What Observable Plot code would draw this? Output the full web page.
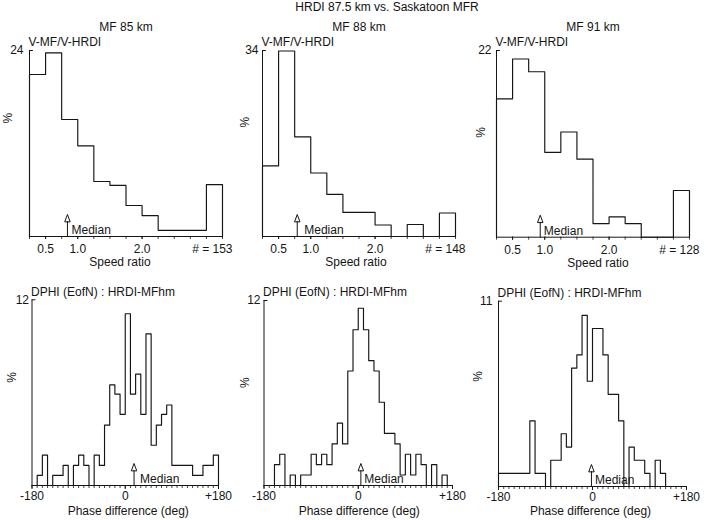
<!DOCTYPE html>
<html>
<head>
<meta charset="utf-8">
<script src="https://cdn.jsdelivr.net/npm/d3@7"></script>
<script src="https://cdn.jsdelivr.net/npm/@observablehq/plot@0.6"></script>
<style>
  body { margin: 0; background: #fff; }
  #chart { position: relative; width: 714px; height: 520px; background: #fff; overflow: hidden;
           font-family: "Liberation Sans", Arial, Helvetica, sans-serif; color: #111; }
  #title { position: absolute; left: 237px; width: 300px; top: 0.5px; text-align: center;
           font-size: 12px; line-height: 12px; white-space: nowrap; }
  .panel { position: absolute; }
</style>
</head>
<body>
<div id="chart"><div id="title"></div></div>
<script>
// ---------------- data ----------------
const overallTitle = "HRDI 87.5 km vs. Saskatoon MFR";
const speedPanelTitles = ["MF 85 km", "MF 88 km", "MF 91 km"];
const speedYTitle = "V-MF/V-HRDI";
const phaseYTitle = "DPHI (EofN) : HRDI-MFhm";
const speedXTitle = "Speed ratio";
const phaseXTitle = "Phase difference (deg)";
const yUnit = "%";
const medianLabel = "Median";

// speed-ratio histograms: bins of 0.25 starting at 0.25 (last bin = 3.0 and above)
const speedBinStart = 0.25;
const speedBinWidth = 0.25;
const speed85 = [20.9, 23.7, 15.1, 11.7, 7.1, 6.6, 4.0, 2.7, 0.8, 0.8, 0.8, 6.7];
const speed88 = [12.9, 33.9, 18.2, 11.6, 7.7, 4.4, 4.4, 2.1, 0, 2.2, 0, 4.3];
const speed91 = [16.3, 21.0, 19.5, 10.0, 12.4, 9.2, 1.6, 2.4, 1.6, 0, 0, 5.5];
const speedYMax = [24, 34, 22];
const speedMedians = [0.84, 0.79, 0.93];
const speedCounts = ["# = 153", "# = 148", "# = 128"];
const speedTickValues = [0.5, 1.0, 2.0];
const speedTickLabels = ["0.5", "1.0", "2.0"];

// phase-difference histograms: 10-degree bins from -180 to +180
const phaseBinStart = -180;
const phaseBinWidth = 10;
const phase85 = [0, 0.65, 1.96, 0, 0.65, 0.65, 1.3, 0, 1.3, 1.96, 1.3, 0, 1.96, 1.3, 3.9, 6.5, 5.9, 4.6,
                 11.1, 5.9, 7.2, 4.6, 9.8, 2.6, 3.9, 4.6, 5.2, 1.3, 1.3, 1.3, 1.3, 0.65, 0.65, 1.3, 1.3, 1.96];
const phase88 = [0, 0, 1.35, 2.03, 0, 0.68, 0, 0.68, 0.68, 2.03, 1.35, 2.03, 1.35, 2.7, 4.05, 2.7, 7.43, 10.1,
                 11.5, 10.1, 8.1, 7.43, 5.4, 3.38, 3.38, 2.7, 0.68, 2.03, 0.68, 2.03, 1.35, 0, 1.35, 0, 0.68, 0];
const phase91 = [0.78, 0.78, 0.78, 0.78, 0.78, 0.78, 3.9, 0.78, 0.78, 0, 1.56, 1.56, 3.13, 2.34, 7.03, 7.81, 10.16, 6.25,
                 9.38, 9.38, 7.81, 5.47, 5.47, 3.9, 0, 2.34, 1.56, 1.56, 0.78, 0, 1.56, 0.78, 0, 0, 0, 0];
const phaseYMax = [12, 12, 11];
const phaseMedians = [17, 5, -2];
const phaseTickValues = [-180, 0, 180];
const phaseTickLabels = ["-180", "0", "+180"];

// ---------------- layout (pixels, not data) ----------------
const layouts = [
  {left: 0,   top: 0,   width: 240, height: 270, mL: 29,   mR: 18, mT: 50,   mB: 34,   yGap: 6,   pctDx: -21.5, pctDy: -20, xtDx: -6, xtDy: 25.5, medDx: 4},
  {left: 232, top: 0,   width: 240, height: 270, mL: 30,   mR: 17, mT: 50,   mB: 34,   yGap: 4,   pctDx: -17,   pctDy: -16, xtDx: -3, xtDy: 25.5, medDx: 7},
  {left: 466, top: 0,   width: 240, height: 270, mL: 30,   mR: 17, mT: 50,   mB: 33.3, yGap: 5,   pctDx: -15,   pctDy: -6,  xtDx: 5,  xtDy: 26,   medDx: 3.5},
  {left: 0,   top: 270, width: 240, height: 250, mL: 31.5, mR: 22, mT: 29.3, mB: 35,   yGap: 3,   pctDx: -20,   pctDy: -10, xtDx: 3,  xtDy: 26,   medDx: 6},
  {left: 234, top: 270, width: 240, height: 250, mL: 29.5, mR: 22, mT: 30,   mB: 35,   yGap: 3.5, pctDx: -18.5, pctDy: -5,  xtDx: 1,  xtDy: 26,   medDx: 3.5},
  {left: 468, top: 270, width: 240, height: 250, mL: 30,   mR: 22, mT: 30.7, mB: 34,   yGap: 6,   pctDx: -20,   pctDy: -12, xtDx: -2, xtDy: 25,   medDx: 3.5}
];

const ink = "#151515";
const fontStack = "'Liberation Sans', Arial, Helvetica, sans-serif";

const lineShape = { draw(ctx, l) { ctx.moveTo(0, 0); ctx.lineTo(0, -l); } };
const medianShape = {
  draw(ctx, l) {
    const head = 7, half = 2.6;
    ctx.moveTo(0, 0); ctx.lineTo(0, -(l - head));
    ctx.moveTo(-half, -(l - head)); ctx.lineTo(0, -l); ctx.lineTo(half, -(l - head)); ctx.closePath();
  }
};

function stepPoints(values, start, width) {
  const end = start + values.length * width;
  const pts = [{x: start, y: 0}];
  values.forEach((v, i) => pts.push({x: start + i * width, y: v}));
  pts.push({x: end, y: values[values.length - 1]});
  pts.push({x: end, y: 0});
  return pts;
}

function panel(cfg, L) {
  const x0 = cfg.binStart, x1 = cfg.binStart + cfg.values.length * cfg.binWidth;
  const fmt = d => cfg.tickLabels[cfg.tickValues.indexOf(d)];
  const t = {fontSize: 12, lineAnchor: "middle"};
  const marks = [
    Plot.ruleY([0], {stroke: ink, strokeWidth: 1}),
    Plot.ruleX([x0], {stroke: ink, strokeWidth: 1}),
    Plot.vector([cfg.ymax], {x: () => x0, y: d => d, length: 3, rotate: 90, anchor: "start", shape: lineShape, stroke: ink, strokeWidth: 1}),
    Plot.axisX({ticks: cfg.minorTicks, tickSize: 3, tickFormat: () => "", label: null, stroke: ink, strokeWidth: 0.8}),
    Plot.axisX({ticks: cfg.tickValues, tickSize: cfg.majorTick, tickPadding: cfg.tickPad, tickFormat: fmt, label: null, fontSize: 12, stroke: ink}),
    Plot.axisY({ticks: [cfg.ymax], tickSize: 0, tickPadding: L.yGap, tickFormat: d => String(d), label: null, fontSize: 12}),
    Plot.line(stepPoints(cfg.values, cfg.binStart, cfg.binWidth), {x: "x", y: "y", curve: "step-after", stroke: ink, strokeWidth: 1.15}),
    Plot.vector([cfg.median], {x: d => d, y: () => 0, length: 22, rotate: 0, anchor: "start", shape: medianShape, stroke: ink, strokeWidth: 1, fill: "white"}),
    Plot.text([cfg.median], {...t, x: d => d, y: () => 0, text: () => medianLabel, textAnchor: "start", dx: L.medDx, dy: -6}),
    Plot.text([cfg.yTitle], {...t, frameAnchor: "top-left", textAnchor: "start", dx: -1, dy: -8}),
    Plot.text([yUnit], {...t, frameAnchor: "left", rotate: -90, dx: L.pctDx, dy: L.pctDy}),
    Plot.text([cfg.xTitle], {...t, frameAnchor: "bottom", dx: L.xtDx, dy: L.xtDy})
  ];
  if (cfg.panelTitle) marks.push(Plot.text([cfg.panelTitle], {...t, frameAnchor: "top", dy: -23}));
  if (cfg.count) marks.push(Plot.text([cfg.count], {...t, frameAnchor: "bottom-right", textAnchor: "end", dx: 10, dy: 12.5}));

  const svg = Plot.plot({
    width: L.width, height: L.height,
    marginLeft: L.mL, marginRight: L.mR, marginTop: L.mT, marginBottom: L.mB,
    x: {domain: [x0, x1]},
    y: {domain: [0, cfg.ymax]},
    style: {background: "transparent", overflow: "visible", fontFamily: fontStack, fontSize: "12px", color: ink},
    marks
  });
  const wrap = document.createElement("div");
  wrap.className = "panel";
  wrap.style.left = L.left + "px";
  wrap.style.top = L.top + "px";
  wrap.appendChild(svg);
  return wrap;
}

document.getElementById("title").textContent = overallTitle;
const chart = document.getElementById("chart");

const speedSeries = [speed85, speed88, speed91];
const phaseSeries = [phase85, phase88, phase91];
const speedMinor = d3.range(speedBinStart, speedBinStart + speed85.length * speedBinWidth + 1e-9, speedBinWidth);
const phaseMinor = d3.range(phaseBinStart, phaseBinStart + phase85.length * phaseBinWidth + 1e-9, phaseBinWidth);

speedSeries.forEach((values, i) => {
  chart.appendChild(panel({
    values, binStart: speedBinStart, binWidth: speedBinWidth, ymax: speedYMax[i], median: speedMedians[i],
    tickValues: speedTickValues, tickLabels: speedTickLabels, minorTicks: speedMinor, majorTick: 3, tickPad: 5,
    yTitle: speedYTitle, xTitle: speedXTitle, panelTitle: speedPanelTitles[i], count: speedCounts[i]
  }, layouts[i]));
});
phaseSeries.forEach((values, i) => {
  chart.appendChild(panel({
    values, binStart: phaseBinStart, binWidth: phaseBinWidth, ymax: phaseYMax[i], median: phaseMedians[i],
    tickValues: phaseTickValues, tickLabels: phaseTickLabels, minorTicks: phaseMinor, majorTick: 4, tickPad: 2,
    yTitle: phaseYTitle, xTitle: phaseXTitle
  }, layouts[3 + i]));
});
</script>
</body>
</html>
